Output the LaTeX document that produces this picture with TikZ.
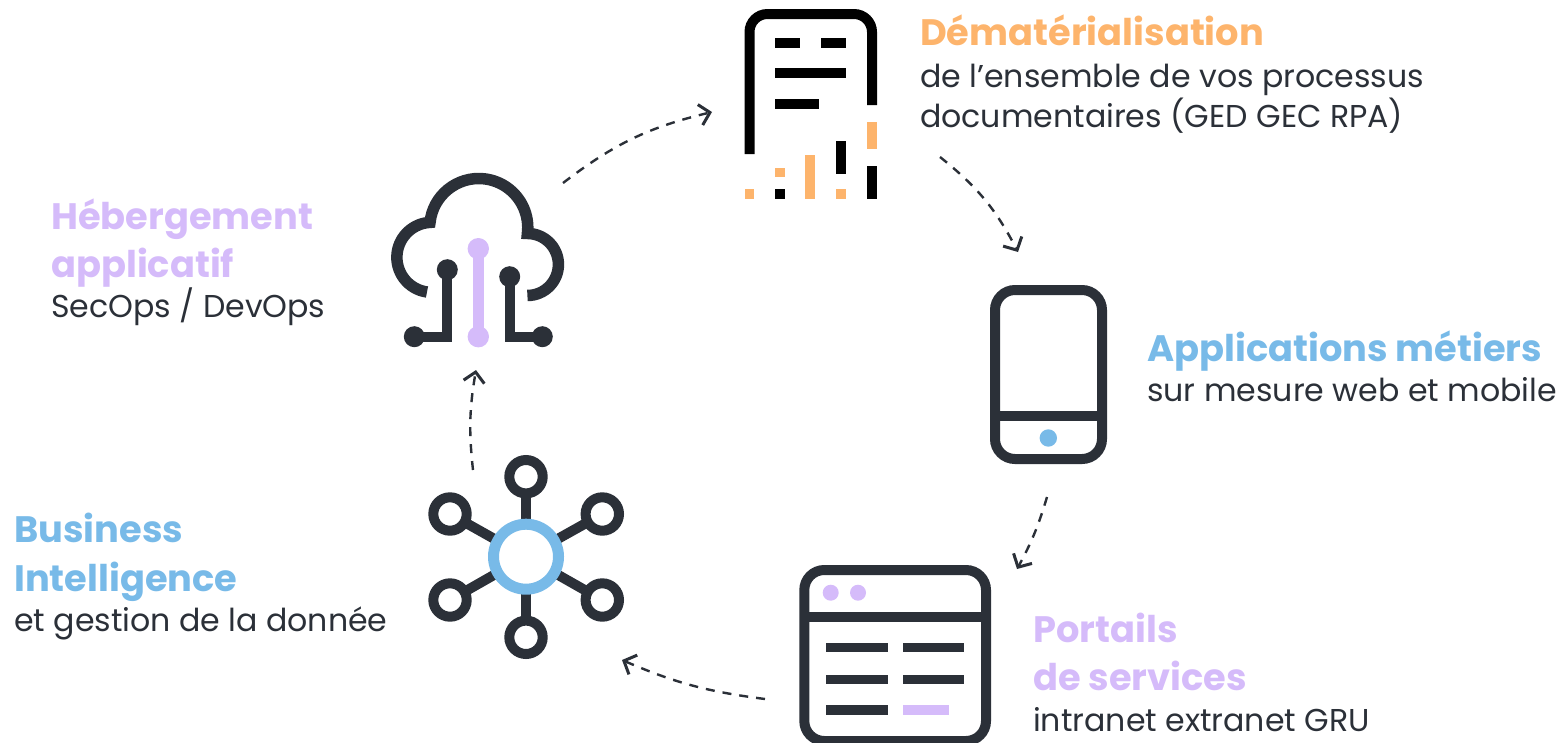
\documentclass[tikz,border=0pt]{standalone}
\usepackage{fontspec}
\setmainfont{Poppins}
\usetikzlibrary{arrows.meta}
\definecolor{darkicon}{HTML}{2B3038}
\definecolor{orangetext}{HTML}{FDB46C}
\definecolor{bluetext}{HTML}{78BAE8}
\definecolor{purpletext}{HTML}{D5BBFA}
\tikzset{
  title/.style={anchor=base west, inner sep=0pt, font=\fontsize{36.8}{36.8}\selectfont\bfseries},
  body/.style={anchor=base west, inner sep=0pt, text=darkicon, font=\fontsize{31.6}{31.6}\selectfont},
  flow/.style={draw=darkicon, line width=2.4, dash pattern=on 9pt off 8pt, -{Straight Barb[length=10pt,width=21pt,line width=3]}},
  thick line/.style={draw=darkicon, line width=10},
}
\begin{document}
\begin{tikzpicture}[x=1pt, y=-1pt]
  \useasboundingbox (0, 0) rectangle (1563, 742);

  \node[title, text=orangetext] (docTitle) at (920, 45){Dématérialisation};
  \node[body] (docLine1) at (920, 87){de l’ensemble de vos processus};
  \node[body] (docLine2) at (920, 127){documentaires (GED GEC RPA)};
  \node[title, text=bluetext] (appTitle) at (1147, 361){Applications métiers};
  \node[body] (appLine) at (1147, 401){sur mesure web et mobile};
  \node[title, text=purpletext] (portalTitle1) at (1033, 642){Portails};
  \node[title, text=purpletext] (portalTitle2) at (1033, 690){de services};
  \node[body] (portalLine) at (1033, 731){intranet extranet GRU};
  \node[title, text=bluetext] (biTitle1) at (14, 542){Business};
  \node[title, text=bluetext] (biTitle2) at (14, 591){Intelligence};
  \node[body] (biLine) at (14, 631){et gestion de la donnée};
  \node[title, text=purpletext] (hostTitle1) at (51, 229){Hébergement};
  \node[title, text=purpletext] (hostTitle2) at (51, 277){applicatif};
  \node[body] (hostLine) at (51, 317){SecOps / DevOps};

  \draw[black, line width=10] (749.5, 154) -- (749.5, 32) arc[start angle=180, end angle=270, radius=18] -- (854, 14) arc[start angle=270, end angle=360, radius=18] -- (872, 105);
  \fill[black] (775, 38) rectangle (800, 48);
  \fill[black] (821, 38) rectangle (846, 48);
  \fill[black] (775, 68) rectangle (846, 78);
  \fill[black] (775, 99) rectangle (819, 109);
  \fill[orangetext] (867, 122) rectangle (877, 149);
  \fill[black] (867, 166) rectangle (877, 199);
  \fill[black] (836, 141) rectangle (846, 174);
  \fill[orangetext] (836, 189) rectangle (846, 199);
  \fill[orangetext] (805, 155) rectangle (815, 199);
  \fill[orangetext] (775, 168) rectangle (785, 177);
  \fill[black] (775, 189) rectangle (785, 199);
  \fill[orangetext] (745, 189) rectangle (754, 199);

  \draw[thick line] (995, 416) -- (1102, 416);
  \draw[thick line, rounded corners=20] (995, 290) rectangle (1102, 459);
  \fill[bluetext] (1048.3, 438) circle (8.7);

  \draw[thick line, rounded corners=20] (804.3, 570) rectangle (986, 741);
  \draw[thick line] (804.3, 616.5) -- (986, 616.5);
  \fill[purpletext] (830.7, 592.7) circle (8);
  \fill[purpletext] (858, 592.7) circle (8);
  \fill[darkicon] (826, 642.5) rectangle (888, 651.5);
  \fill[darkicon] (903, 642.5) rectangle (964, 651.5);
  \fill[darkicon] (826, 674.5) rectangle (888, 683.5);
  \fill[darkicon] (903, 674.5) rectangle (964, 683.5);
  \fill[darkicon] (826, 705) rectangle (888, 714.5);
  \fill[purpletext] (903, 705) rectangle (949, 714.5);

  \foreach \x/\y in {526/476.7, 602.3/514, 602.3/600, 526/637.3, 450/600, 450/514}{
    \draw[thick line] (526, 556.7) -- (\x, \y);
    \draw[thick line, fill=white] (\x, \y) circle (16.7);
  }
  \draw[draw=bluetext, line width=11, fill=white] (526, 556.7) circle (32.5);

  \draw[draw=darkicon, line width=11.5] (427, 292) arc[start angle=98, end angle=267, radius=35] arc[start angle=186, end angle=367, radius=49] arc[start angle=270, end angle=450, radius=31];
  \draw[thick line] (447.3, 269.7) -- (447.3, 336.7) -- (414.3, 336.7);
  \draw[thick line] (509.7, 276.7) -- (509.7, 336.7) -- (542.3, 336.7);
  \fill[darkicon] (447.3, 269.7) circle (10.5);
  \fill[darkicon] (414.3, 336.7) circle (10.5);
  \fill[darkicon] (509.7, 276.7) circle (10.5);
  \fill[darkicon] (542.3, 336.7) circle (10.5);
  \draw[draw=purpletext, line width=11] (478.3, 248.7) -- (478.3, 336.7);
  \fill[purpletext] (478.3, 248.7) circle (10.7);
  \fill[purpletext] (478.3, 336.7) circle (10.7);

  \coordinate (cloudOut) at (563, 183);
  \coordinate (docIn) at (712, 112);
  \coordinate (docOut) at (940, 157);
  \coordinate (phoneIn) at (1018, 252);
  \coordinate (phoneOut) at (1047, 497);
  \coordinate (portalIn) at (1017, 569);
  \coordinate (portalOut) at (765, 699);
  \coordinate (netIn) at (622, 660);
  \coordinate (netOut) at (473, 470);
  \coordinate (cloudIn) at (476, 370);
  \draw[flow] (cloudOut) to[bend left=12] (docIn);
  \draw[flow] (docOut) to[bend left=12] (phoneIn);
  \draw[flow] (phoneOut) to[bend left=6] (portalIn);
  \draw[flow] (portalOut) to[bend left=8] (netIn);
  \draw[flow] (netOut) to[bend left=8] (cloudIn);
\end{tikzpicture}
\end{document}
